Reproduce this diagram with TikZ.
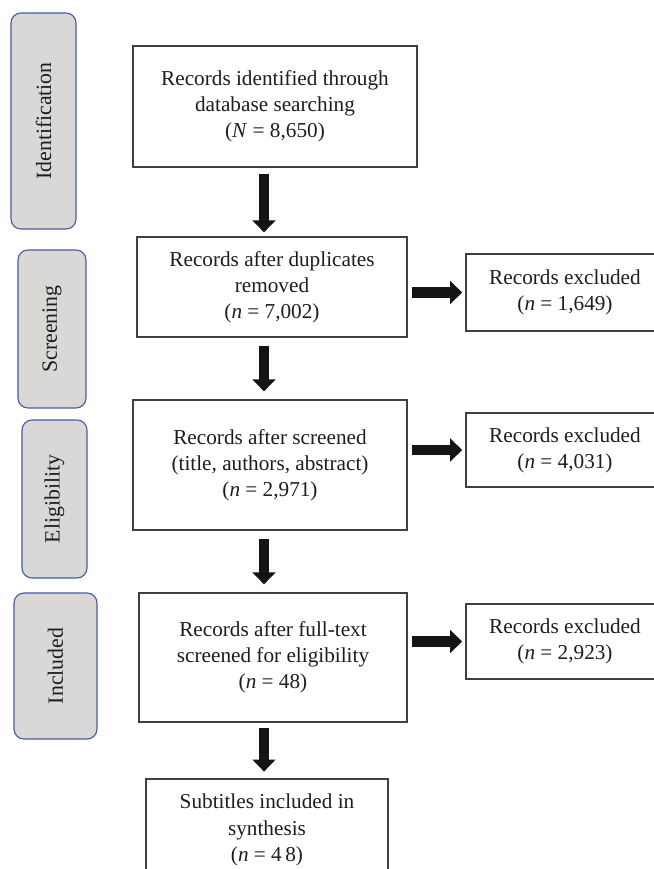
\documentclass[tikz,border=0pt]{standalone}
\usepackage{fontspec}
\setmainfont{Liberation Serif}
\usetikzlibrary{arrows.meta}
\definecolor{stagefill}{RGB}{218,215,215}
\definecolor{stageedge}{RGB}{72,92,160}
\definecolor{inkgray}{RGB}{30,28,28}

\begin{document}
\begin{tikzpicture}[x=0.025cm, y=-0.025cm,
    stage/.style={draw=stageedge, line width=0.8pt, rounded corners=0.25cm, fill=stagefill, rotate=90, inner sep=0pt, text=inkgray, font=\fontsize{15.5}{18}\selectfont},
    record/.style={draw=black!75, line width=0.8pt, align=center, inner sep=0pt, text=inkgray, font=\fontsize{15.1}{18.6}\selectfont},
    flow/.style={-{Triangle[width=0.56cm, length=0.3cm]}, line width=0.27cm, black!92}
]
\useasboundingbox (0,0) rectangle (653,869);

% stages on the left
\node[stage, minimum width=5.4cm, minimum height=1.625cm] (ident) at (43.5,121) {Identification};
\node[stage, minimum width=3.95cm, minimum height=1.7cm] (screen) at (52,329) {Screening};
\node[stage, minimum width=3.95cm, minimum height=1.625cm] (elig) at (54.5,499) {Eligibility};
\node[stage, minimum width=3.65cm, minimum height=2.075cm] (incl) at (55.5,666) {Included};

% main column
\node[record, minimum width=7.1cm, minimum height=3.025cm] (rec1) at (275,106.5) {Records identified through\\database searching\\(\textit{N} = 8,650)};
\node[record, minimum width=6.75cm, minimum height=2.5cm] (rec2) at (272,287) {Records after duplicates\\removed\\(\textit{n} = 7,002)};
\node[record, minimum width=6.85cm, minimum height=3.25cm] (rec3) at (270,465) {Records after screened\\(title, authors, abstract)\\(\textit{n} = 2,971)};
\node[record, minimum width=6.7cm, minimum height=3.225cm] (rec4) at (273,657.5) {Records after full-text\\screened for eligibility\\(\textit{n} = 48)};
\node[record, minimum width=6.05cm, minimum height=2.55cm] (synth) at (267,830) {Subtitles included in\\synthesis\\(\textit{n} = 4\,8)};

% excluded records
\node[record, minimum width=4.95cm, minimum height=1.925cm] (excl1) at (565,292.5) {Records excluded\\(\textit{n} = 1,649)};
\node[record, minimum width=4.95cm, minimum height=1.85cm] (excl2) at (565,450) {Records excluded\\(\textit{n} = 4,031)};
\node[record, minimum width=4.95cm, minimum height=1.875cm] (excl3) at (565,641.5) {Records excluded\\(\textit{n} = 2,923)};

\coordinate (spine) at (264,0);

\draw[flow, shorten <=0.15cm, shorten >=0.1cm] (rec1.south -| spine) -- (rec2.north -| spine);
\draw[flow, shorten <=0.2cm, shorten >=0.2cm] (rec2.south -| spine) -- (rec3.north -| spine);
\draw[flow, shorten <=0.2cm, shorten >=0.2cm] (rec3.south -| spine) -- (rec4.north -| spine);
\draw[flow, shorten <=0.13cm, shorten >=0.17cm] (rec4.south -| spine) -- (synth.north -| spine);

\draw[flow, shorten <=0.1cm, shorten >=0.08cm] (rec2.east |- excl1.west) -- (excl1.west);
\draw[flow, shorten <=0.1cm, shorten >=0.08cm] (rec3.east |- excl2.west) -- (excl2.west);
\draw[flow, shorten <=0.1cm, shorten >=0.08cm] (rec4.east |- excl3.west) -- (excl3.west);
\end{tikzpicture}
\end{document}
